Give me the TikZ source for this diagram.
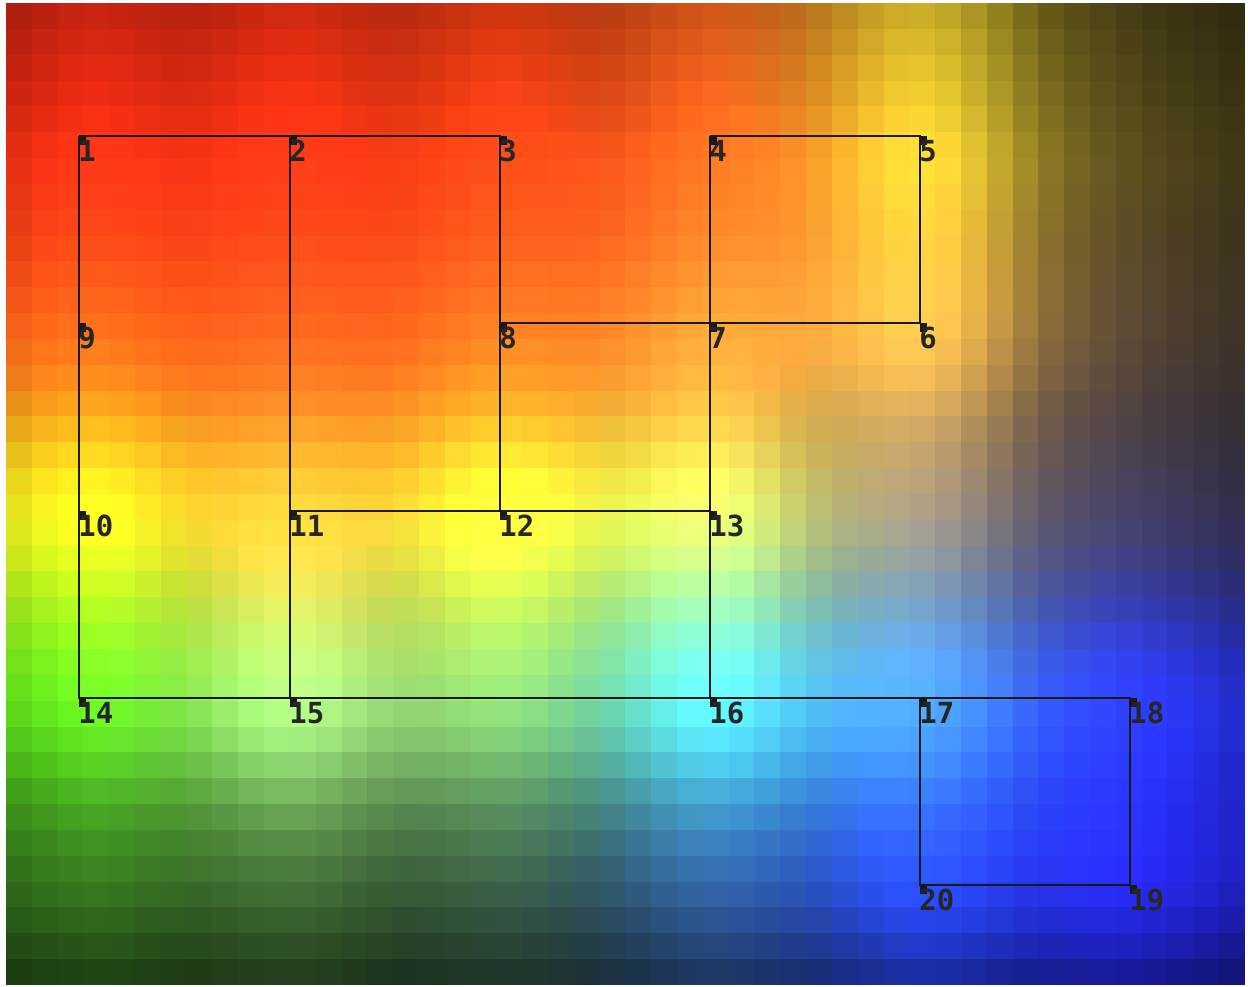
\documentclass[tikz,border=0pt]{standalone}
\usepackage{fontspec}
\newfontfamily\numfont{DejaVu Sans Mono}

% colour of the field at the 6x5 grid points, rows a..e from the top, RGB 0..255
\def\rowaR{255,255,255,255,255,80}  \def\rowaG{45,50,65,100,225,70}    \def\rowaB{20,20,20,30,50,25}
\def\rowbR{255,255,255,255,255,75}  \def\rowbG{90,80,100,140,190,60}   \def\rowbB{25,25,30,45,70,45}
\def\rowcR{255,255,255,225,150,60}  \def\rowcG{255,190,255,245,130,55} \def\rowcB{30,50,45,90,110,80}
\def\rowdR{90,170,130,80,70,40}     \def\rowdG{240,245,205,240,165,55} \def\rowdB{25,140,110,255,255,255}
\def\roweR{50,55,50,45,40,40}       \def\roweG{110,95,80,85,70,40}     \def\roweB{30,45,60,150,255,245}
\def\rowdot#1,#2,#3,#4,#5,#6;{(#1)*\exA+(#2)*\exB+(#3)*\exC+(#4)*\exD+(#5)*\exE+(#6)*\exF}
\newcommand\heatgain{0.86}

\begin{document}
\begin{tikzpicture}[x=0.5pt, y=-0.5pt,
  edge/.style={line width=1.2pt, black!90},
  marker/.style={fill=black!90},
  lbl/.style={anchor=north west, inner sep=0pt, xshift=-0.5pt, yshift=-2pt,
    font=\numfont\bfseries\fontsize{14.5}{15}\selectfont, text=black!85}]
\useasboundingbox (0,0) rectangle (1248,986);
\fill[white] (0,0) rectangle (1248,986);

% weights of the rows
\foreach \j in {0,...,37}{
  \edef\cy{\fpeval{3+(\j+0.5)*25.84}}
  \expandafter\xdef\csname ey\j a\endcsname{\fpeval{exp(-((\cy-136)/(\cy<136?310:125))^2)}}
  \expandafter\xdef\csname ey\j b\endcsname{\fpeval{exp(-((\cy-323)/125)^2)}}
  \expandafter\xdef\csname ey\j c\endcsname{\fpeval{exp(-((\cy-511)/125)^2)}}
  \expandafter\xdef\csname ey\j d\endcsname{\fpeval{exp(-((\cy-698)/125)^2)}}
  \expandafter\xdef\csname ey\j e\endcsname{\fpeval{exp(-((\cy-885)/(\cy>885?140:125))^2)}}
}

\begin{scope}
\clip (6,3) rectangle (1245,985);
\foreach \i in {0,...,47}{
  \edef\cx{\fpeval{6+(\i+0.5)*25.81}}
  \edef\exA{\fpeval{exp(-((\cx-79)/(\cx<79?200:125))^2)}}
  \edef\exB{\fpeval{exp(-((\cx-290)/125)^2)}}
  \edef\exC{\fpeval{exp(-((\cx-500)/125)^2)}}
  \edef\exD{\fpeval{exp(-((\cx-710)/125)^2)}}
  \edef\exE{\fpeval{exp(-((\cx-920)/125)^2)}}
  \edef\exF{\fpeval{exp(-((\cx-1130)/(\cx>1130?230:125))^2)}}
  \foreach \m in {a,b,c,d,e}{
    \foreach \c in {R,G,B}{
      \edef\tmp{\expandafter\expandafter\expandafter\rowdot\csname row\m\c\endcsname;}
      \expandafter\xdef\csname S\m\c\endcsname{\fpeval{\tmp}}
    }
  }
  \foreach \j in {0,...,37}{
    \edef\hr{\fpeval{round(min(255,\heatgain*(\csname ey\j a\endcsname*\SaR+\csname ey\j b\endcsname*\SbR
      +\csname ey\j c\endcsname*\ScR+\csname ey\j d\endcsname*\SdR+\csname ey\j e\endcsname*\SeR)))}}
    \edef\hg{\fpeval{round(min(255,\heatgain*(\csname ey\j a\endcsname*\SaG+\csname ey\j b\endcsname*\SbG
      +\csname ey\j c\endcsname*\ScG+\csname ey\j d\endcsname*\SdG+\csname ey\j e\endcsname*\SeG)))}}
    \edef\hb{\fpeval{round(min(255,\heatgain*(\csname ey\j a\endcsname*\SaB+\csname ey\j b\endcsname*\SbB
      +\csname ey\j c\endcsname*\ScB+\csname ey\j d\endcsname*\SdB+\csname ey\j e\endcsname*\SeB)))}}
    \definecolor{heat}{RGB}{\hr,\hg,\hb}
    \fill[heat] (6+\i*25.81,3+\j*25.84) rectangle ++(26.4,26.4);
  }
}
\end{scope}

\foreach \n/\x/\y in {1/79/136, 2/290/136, 3/500/136, 4/710/136, 5/920/136,
  6/920/323, 7/710/323, 8/500/323, 9/79/323,
  10/79/511, 11/290/511, 12/500/511, 13/710/511,
  14/79/698, 15/290/698, 16/710/698, 17/920/698, 18/1130/698,
  19/1130/885, 20/920/885}
  \coordinate (n\n) at (\x,\y);

\draw[edge] (n1) -- (n2) -- (n3) -- (n8) -- (n12);
\draw[edge] (n4) -- (n5) -- (n6) -- (n7) -- (n8);
\draw[edge] (n4) -- (n7) -- (n13) -- (n16);
\draw[edge] (n1) -- (n9) -- (n10) -- (n14) -- (n15) -- (n16) -- (n17) -- (n18) -- (n19) -- (n20) -- (n17);
\draw[edge] (n2) -- (n11) -- (n15);
\draw[edge] (n11) -- (n12) -- (n13);

\foreach \n in {1,...,20}{
  \fill[marker] (n\n) rectangle ++(7,9);
  \node[lbl] (l\n) at (n\n) {\n};
}
\end{tikzpicture}
\end{document}
